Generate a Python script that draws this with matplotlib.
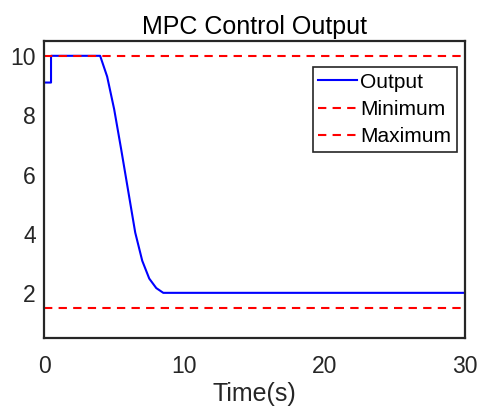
import numpy as np
import matplotlib.pyplot as plt

plt.rcParams['font.family'] = ['Liberation Sans', 'DejaVu Sans']

# output trajectory
time_s = [0, 0.5, 0.5, 1.0, 2.0, 3.0, 4.0, 4.5, 5.0, 5.5, 6.0, 6.5, 7.0, 7.5, 8.0, 8.5, 30.0]
output = [9.1, 9.1, 10.0, 10.0, 10.0, 10.0, 10.0, 9.3, 8.2, 6.85, 5.45, 4.05, 3.1, 2.5, 2.18, 2.02, 2.02]
y_min = 1.5
y_max = 10.0

fig = plt.figure(figsize=(4.82, 4.08), dpi=100)
ax = fig.add_axes([0.0913, 0.1716, 0.8734, 0.728])

ax.plot(time_s, output, color='#0000ff', lw=1.5, label='Output')
ax.axhline(y_min, color='#ff0000', lw=1.5, ls=(0, (4, 3)), label='Minimum')
ax.axhline(y_max, color='#ff0000', lw=1.5, ls=(0, (4, 3)), label='Maximum')

ax.set_xlim(0, 30)
ax.set_ylim(0.5, 10.5)
ax.set_xticks([0, 10, 20, 30])
ax.set_yticks([2, 4, 6, 8, 10])
ax.tick_params(length=0, labelsize=16.5, colors='#262626')
ax.tick_params(axis='x', pad=12)
ax.tick_params(axis='y', pad=6)
for s in ax.spines.values():
    s.set_linewidth(1.6)
    s.set_color('#262626')

ax.set_xlabel('Time(s)', fontsize=18, color='#262626', labelpad=3)
ax.set_title('MPC Control Output', fontsize=18, color='black', pad=5)

leg = ax.legend(loc='upper right', bbox_to_anchor=(0.981, 0.913), fontsize=15,
                fancybox=False, edgecolor='#262626', framealpha=1,
                handlelength=1.85, handletextpad=0.15, borderpad=0.28,
                labelspacing=0.4, borderaxespad=0)
leg.get_frame().set_linewidth(1.2)

plt.savefig('out.png', dpi=100)
